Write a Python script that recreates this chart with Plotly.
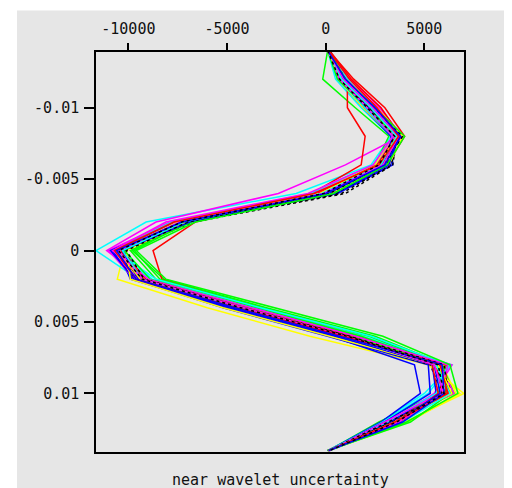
import plotly.graph_objects as go

# time samples (s)
time_s = [-0.014, -0.012, -0.010, -0.008, -0.006, -0.004, -0.002, 0.0,
          0.002, 0.004, 0.006, 0.008, 0.010, 0.012, 0.014]

# wavelet realizations (amplitude at each time sample)
yellow_1 = [150, 700, 2100, 3700, 3000, 200, -6900, -10200, -10560, -6000, -800, 5200, 7000, 4000, 150]
cyan_1 = [100, 500, 1800, 3300, 2300, -1500, -9100, -11640, -9500, -4000, 1600, 6400, 5000, 2800, 100]
green_1 = [100, -150, 1500, 3200, 2500, -400, -7300, -9800, -8200, -3000, 2500, 6100, 5700, 2700, 150]
magenta_1 = [150, 1200, 2800, 3800, 1000, -2400, -8600, -11100, -9200, -3800, 1700, 6400, 5500, 3200, 150]
red_1 = [100, 1100, 1100, 2000, 1800, -700, -6600, -8750, -8300, -3400, 1800, 5600, 5900, 3300, 150]
blue_1 = [150, 600, 1900, 3300, 3400, 600, -7000, -10500, -9900, -5000, 300, 4500, 4800, 2800, 150]
black_1 = [150, 700, 2000, 3600, 3400, 1000, -6700, -10200, -9400, -4400, 800, 5600, 6100, 3500, 150]

yellow_2 = [100, 900, 2400, 3800, 2800, -100, -7200, -10300, -9600, -4800, 500, 5900, 6600, 3300, 150]
cyan_2 = [150, 900, 2200, 3500, 2600, -400, -7300, -10400, -8800, -3600, 1900, 6300, 5200, 2900, 150]
green_2 = [150, 700, 2000, 3500, 2700, -200, -7000, -9700, -8400, -3200, 2200, 6000, 6100, 3000, 200]
magenta_2 = [100, 800, 2300, 3500, 2500, -600, -7700, -10900, -9500, -4300, 1100, 6000, 6200, 3600, 150]
red_2 = [150, 1420, 3000, 4000, 3100, 100, -7100, -10300, -9100, -4000, 1300, 5900, 6300, 3500, 150]
blue_2 = [100, 800, 2200, 3600, 3300, 500, -7200, -10800, -9800, -5200, 100, 5200, 5300, 3000, 100]
black_2 = [100, 900, 2300, 3800, 3300, 800, -6900, -10400, -9700, -4800, 400, 5300, 5900, 3700, 150]

yellow_3 = [200, 600, 1900, 3400, 2500, -500, -7600, -10600, -9200, -4200, 1400, 6000, 6200, 3700, 100]
cyan_3 = [200, 1100, 2500, 3700, 2900, 0, -7000, -10200, -9000, -4100, 1200, 5800, 6000, 3600, 150]
green_3 = [200, 900, 2400, 3800, 3000, 100, -6800, -9900, -8600, -3500, 1800, 5900, 6500, 3400, 150]
magenta_3 = [200, 1000, 2700, 3900, 2700, -500, -7900, -11000, -9700, -4600, 700, 5800, 6500, 3400, 100]
red_3 = [200, 1300, 2800, 3800, 2800, -300, -7600, -10600, -9400, -4300, 1000, 6100, 6100, 3200, 100]
blue_3 = [200, 700, 2000, 3400, 2900, 200, -7500, -10900, -9700, -4900, 400, 5400, 5600, 3300, 150]
black_3 = [200, 800, 2200, 3700, 3100, 500, -7100, -10300, -9500, -4500, 1000, 5800, 6400, 3400, 100]

yellow_4 = [150, 1000, 2600, 3900, 3200, 300, -7000, -10100, -9900, -5200, 200, 5500, 6800, 4200, 150]
cyan_4 = [100, 600, 2000, 3400, 2400, -800, -7800, -10700, -8600, -3300, 2300, 6200, 5600, 3100, 100]
green_4 = [100, 600, 2100, 3600, 2800, -300, -7400, -10200, -8900, -3900, 1400, 5700, 6300, 4300, 100]
magenta_4 = [150, 700, 2100, 3400, 2400, -900, -8100, -10800, -9000, -3700, 1500, 6200, 5800, 3000, 200]
red_4 = [100, 900, 2400, 3600, 2600, -400, -7300, -10400, -9200, -4100, 1200, 5400, 5700, 3800, 200]
blue_4 = [150, 900, 2300, 3700, 3200, 400, -6900, -10300, -9500, -4700, 600, 5500, 5800, 3600, 200]
black_4 = [150, 1000, 2400, 3900, 2900, 200, -7000, -10100, -9200, -4200, 1200, 6000, 6200, 3200, 150]

yellow_5 = [100, 800, 2300, 3600, 2700, -300, -7500, -10500, -9400, -4500, 800, 5700, 6400, 3500, 200]
cyan_5 = [150, 800, 2300, 3600, 2800, -200, -7200, -10300, -9300, -4400, 900, 5600, 6300, 3900, 200]
green_5 = [150, 1000, 2500, 4000, 3100, 400, -6600, -9600, -8100, -2600, 2900, 6300, 6700, 4100, 150]
magenta_5 = [100, 900, 2400, 3700, 2900, -100, -7400, -10500, -9300, -4200, 1000, 5500, 6000, 3700, 150]
red_5 = [150, 1200, 2600, 3700, 2700, -600, -7700, -10700, -9600, -4500, 900, 5800, 6200, 3500, 150]
blue_5 = [100, 1000, 2500, 3800, 3000, 0, -7300, -10600, -9600, -4600, 700, 5900, 6000, 3900, 150]
black_5 = [100, 700, 2100, 3500, 2700, -100, -7300, -10500, -9300, -4300, 1100, 5700, 6000, 3600, 200]

x_tick_vals = [-10000, -5000, 0, 5000]
x_tick_text = ["-10000", "-5000", "0", "5000"]
y_tick_vals = [-0.01, -0.005, 0.0, 0.005, 0.01]
y_tick_text = ["-0.01", "-0.005", "0", "0.005", "0.01"]
x_title = "near wavelet uncertainty"

series = [
    (yellow_1, "#ffff00", "solid"), (cyan_1, "#00ffff", "solid"), (green_1, "#00ff00", "solid"),
    (magenta_1, "#ff00ff", "solid"), (red_1, "#ff0000", "solid"), (blue_1, "#0000ff", "solid"),
    (black_1, "#000000", "dot"),
    (yellow_2, "#ffff00", "solid"), (cyan_2, "#00ffff", "solid"), (green_2, "#00ff00", "solid"),
    (magenta_2, "#ff00ff", "solid"), (red_2, "#ff0000", "solid"), (blue_2, "#0000ff", "solid"),
    (black_2, "#000000", "dot"),
    (yellow_3, "#ffff00", "solid"), (cyan_3, "#00ffff", "solid"), (green_3, "#00ff00", "solid"),
    (magenta_3, "#ff00ff", "solid"), (red_3, "#ff0000", "solid"), (blue_3, "#0000ff", "solid"),
    (black_3, "#000000", "dot"),
    (yellow_4, "#ffff00", "solid"), (cyan_4, "#00ffff", "solid"), (green_4, "#00ff00", "solid"),
    (magenta_4, "#ff00ff", "solid"), (red_4, "#ff0000", "solid"), (blue_4, "#0000ff", "solid"),
    (black_4, "#000000", "dot"),
    (yellow_5, "#ffff00", "solid"), (cyan_5, "#00ffff", "solid"), (green_5, "#00ff00", "solid"),
    (magenta_5, "#ff00ff", "solid"), (red_5, "#ff0000", "solid"), (blue_5, "#0000ff", "solid"),
    (black_5, "#000000", "dot"),
]

fig = go.Figure()
for vals, col, dash in series:
    fig.add_trace(go.Scatter(x=vals, y=time_s, mode="lines",
                             line=dict(color=col, width=1.5, dash=dash),
                             showlegend=False, hoverinfo="skip"))

grey = "#e6e6e6"
font = dict(family="DejaVu Sans Mono", size=15, color="#111111")

# page has an 8px body margin; plot area lands at page x 96..464, y 48..452
fig.update_layout(
    width=504, height=480,
    margin=dict(l=88, r=48, t=40, b=36),
    paper_bgcolor="white",
    plot_bgcolor=grey,
    font=font,
    showlegend=False,
    shapes=[dict(type="rect", xref="paper", yref="paper",
                 x0=(17 - 96) / 368, x1=(530 - 96) / 368,
                 y0=(452 - 500) / 404, y1=(452 - 6) / 404,
                 fillcolor=grey, line=dict(width=0), layer="below")],
    annotations=[dict(text=x_title, xref="paper", yref="paper",
                      x=0.5, y=(452 - 480) / 404, xanchor="center",
                      yanchor="middle", showarrow=False, font=font)],
)
fig.update_xaxes(side="top", range=[-11640, 7010], tickvals=x_tick_vals,
                 ticktext=x_tick_text, ticks="outside", ticklen=7, tickwidth=1.5,
                 tickcolor="black", showline=True, linecolor="black", linewidth=1.5,
                 mirror=True, showgrid=False, zeroline=False, tickfont=font,
                 ticklabelstandoff=3)
fig.update_yaxes(range=[0.0141, -0.0139], tickvals=y_tick_vals, ticktext=y_tick_text,
                 ticks="outside", ticklen=10, tickwidth=1.5, tickcolor="black",
                 showline=True, linecolor="black", linewidth=1.5, mirror=True,
                 showgrid=False, zeroline=False, tickfont=font,
                 ticklabelstandoff=2)

fig.write_html("out.html")
